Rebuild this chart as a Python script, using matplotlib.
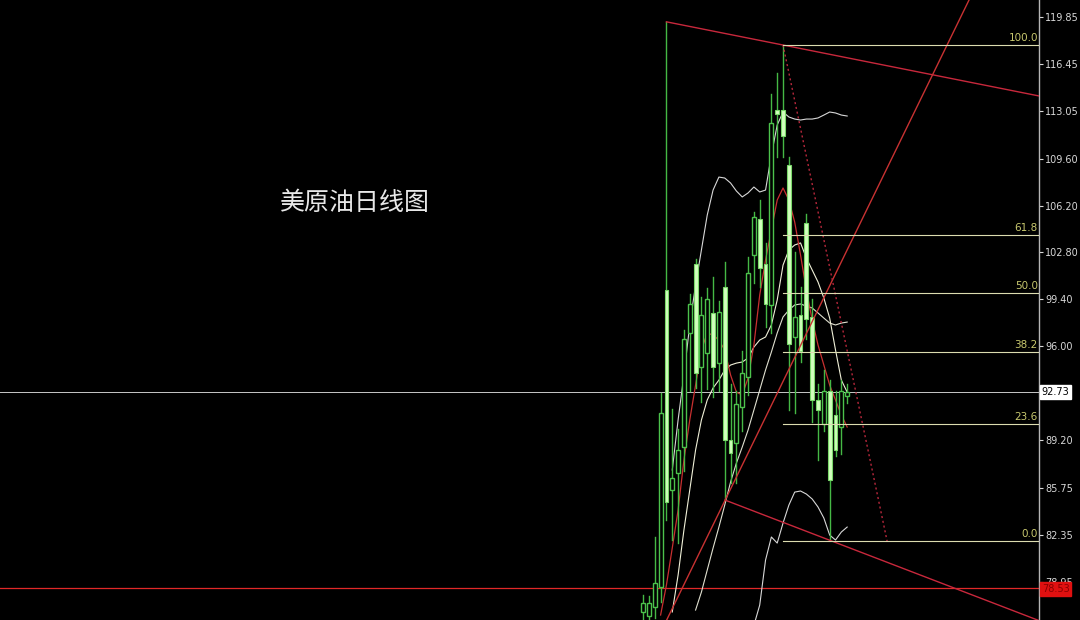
import matplotlib
matplotlib.use("Agg")
import matplotlib.pyplot as plt
import numpy as np
from matplotlib.patches import Rectangle

# daily candles (index 0 = first visible bar)
opens = [76.8, 76.5, 77.1, 78.6, 100.1, 85.6, 86.8, 88.7, 97.0, 102.0, 94.5, 95.5,
         98.4, 94.8, 100.3, 89.2, 89.0, 91.6, 93.8, 102.6, 105.2, 102.0, 99.0, 113.1,
         113.1, 109.1, 96.7, 98.3, 104.9, 98.1, 92.1, 90.4, 92.8, 91.0, 90.2, 92.4]
highs = [78.0, 77.9, 82.2, 92.6, 119.5, 91.5, 90.0, 97.2, 99.8, 102.3, 99.6, 100.2,
         101.0, 99.3, 102.1, 93.3, 92.8, 95.7, 102.5, 105.7, 106.6, 103.5, 114.3, 115.8,
         117.82, 109.7, 102.8, 100.3, 105.6, 99.4, 93.3, 94.3, 93.6, 92.8, 93.6, 93.3]
lows = [76.2, 76.2, 76.3, 77.5, 83.4, 82.0, 81.8, 87.0, 92.8, 93.0, 92.0, 92.9,
        92.3, 92.8, 84.9, 86.1, 86.1, 89.9, 92.5, 100.6, 100.3, 97.4, 97.0, 109.7,
        109.7, 91.4, 91.2, 94.9, 96.5, 90.5, 87.8, 89.9, 82.0, 88.1, 88.2, 91.9]
closes = [77.4, 77.4, 78.9, 91.2, 84.7, 86.5, 88.5, 96.5, 99.1, 94.1, 98.3, 99.4,
          94.5, 98.5, 89.2, 88.3, 91.8, 94.1, 101.3, 105.4, 101.7, 99.1, 112.2, 112.8,
          111.2, 96.2, 98.1, 95.7, 98.0, 92.1, 91.4, 92.8, 86.3, 88.5, 92.8, 92.73]

nan = np.nan
# moving averages / bands, one value per bar
ma5 = [nan, nan, nan, 76.55, 78.72, 81.40, 84.15, 87.77, 90.67, 93.20, 95.74, 96.97,
       96.82, 96.46, 95.74, 93.93, 92.69, 92.48, 93.71, 96.10, 99.72, 102.25, 104.43, 106.60,
       107.47, 106.60, 105.00, 102.62, 100.08, 97.91, 96.10, 94.65, 93.20, 92.12, 91.03, 90.16]
ma10 = [nan, nan, nan, nan, nan, 76.77, 79.44, 82.70, 85.60, 88.50, 90.67, 92.12,
        92.99, 93.56, 94.29, 94.65, 94.79, 94.87, 95.16, 95.95, 96.46, 96.68, 97.55, 99.36,
        101.89, 102.98, 103.34, 103.49, 102.40, 101.53, 100.66, 99.50, 98.05, 95.74, 93.56, 92.69]
boll_mid = [nan, nan, nan, nan, nan, nan, nan, nan, nan, 76.91, 78.21, 79.81,
            81.40, 82.92, 84.51, 86.18, 87.55, 88.71, 89.94, 91.39, 92.84, 94.29, 95.59, 96.97,
            98.13, 98.63, 99.00, 99.07, 98.92, 98.78, 98.42, 98.05, 97.69, 97.55, 97.69, 97.76]
boll_up = [nan, nan, nan, nan, nan, 87.05, 90.67, 93.93, 97.55, 100.44, 102.98, 105.51,
           107.32, 108.26, 108.19, 107.83, 107.25, 106.82, 107.11, 107.54, 107.18, 107.32, 109.86, 112.03,
           112.97, 112.61, 112.46, 112.39, 112.46, 112.46, 112.54, 112.75, 112.97, 112.90, 112.75, 112.68]
boll_low = [nan, nan, nan, nan, nan, nan, nan, nan, nan, nan, nan, nan,
            nan, nan, nan, nan, nan, nan, nan, 75.80, 77.27, 80.53, 82.20, 81.76,
            83.21, 84.51, 85.45, 85.53, 85.31, 84.95, 84.37, 83.57, 82.34, 81.98, 82.56, 82.92]

# drawn objects: trend lines as (bar, price) anchors
resist_line = [(4, 119.5), (24, 117.82)]
support_line = [(14.07, 84.87), (32.4, 81.9)]
rising_line = [(14.07, 84.87), (55.9, 121.08)]
dotted_line = [(24, 117.82), (41.85, 81.9)]

# fibonacci retracement
fib_start = 24
fib_high = 117.82
fib_low = 81.9
fib_levels = [100.0, 61.8, 50.0, 38.2, 23.6, 0.0]

y_ticks = [119.85, 116.45, 113.05, 109.60, 106.20, 102.80, 99.40, 96.00, 89.20, 85.75, 82.35, 78.95]
last_price = 92.73
red_level = 78.53
title = "美原油日线图"

X_LEFT, X_RIGHT = -110.3, 67.9
Y_LOW, Y_HIGH = 76.19, 121.08


def extend(anchors, x0, x1):
    (xa, ya), (xb, yb) = anchors
    k = (yb - ya) / (xb - xa)
    return [x0, x1], [ya + k * (x0 - xa), ya + k * (x1 - xa)]


def draw_candles(ax):
    width = 0.66
    for i in range(len(opens)):
        o, h, l, c = opens[i], highs[i], lows[i], closes[i]
        ax.plot([i, i], [l, h], color="#45b845", lw=1.0, zorder=3)
        bottom = min(o, c)
        height = max(abs(c - o), 0.08)
        if c >= o:
            rect = Rectangle((i - width / 2, bottom), width, height,
                             facecolor="black", edgecolor="#4cc24c", lw=1.0, zorder=4)
        else:
            rect = Rectangle((i - width / 2, bottom), width, height,
                             facecolor="#d2ffbe", edgecolor="#7ad86a", lw=0.8, zorder=4)
        ax.add_patch(rect)


fig = plt.figure(figsize=(10.8, 6.2), dpi=100, facecolor="black")
ax = fig.add_axes([0, 0, 1039 / 1080, 1])
ax.set_facecolor("black")
ax.set_xlim(X_LEFT, X_RIGHT)
ax.set_ylim(Y_LOW, Y_HIGH)

# bands and averages
bars = np.arange(len(opens))
ax.plot(bars, boll_up, color="#d8d8d8", lw=0.8, zorder=2)
ax.plot(bars, boll_low, color="#d8d8d8", lw=0.8, zorder=2)
ax.plot(bars, boll_mid, color="#e0e0d0", lw=0.8, zorder=2)
ax.plot(bars, ma10, color="#f0f0d8", lw=0.8, zorder=2)
ax.plot(bars, ma5, color="#c83030", lw=0.9, zorder=2)

draw_candles(ax)

# horizontal price lines
ax.axhline(last_price, color="#c8c8c8", lw=0.7, zorder=1)
ax.axhline(red_level, color="#e02828", lw=0.9, zorder=1)

# trend lines
xs, ys = extend(resist_line, resist_line[0][0], X_RIGHT)
ax.plot(xs, ys, color="#c8283c", lw=1.0, zorder=5)
xs, ys = extend(support_line, support_line[0][0], X_RIGHT)
ax.plot(xs, ys, color="#c8283c", lw=1.0, zorder=5)
xs, ys = extend(rising_line, 3.0, rising_line[1][0])
ax.plot(xs, ys, color="#c83232", lw=1.0, zorder=5)
xs, ys = extend(dotted_line, dotted_line[0][0], dotted_line[1][0])
ax.plot(xs, ys, color="#b8283c", lw=1.0, ls=(0, (1.5, 2.0)), zorder=5)

# fibonacci lines and labels
for lvl in fib_levels:
    price = fib_low + (fib_high - fib_low) * lvl / 100.0
    ax.plot([fib_start, X_RIGHT], [price, price], color="#dcdcb0", lw=0.8, zorder=5)
    ax.text(X_RIGHT - 0.2, price + 0.12, "%.1f" % lvl, color="#c8c86e",
            fontsize=7.5, ha="right", va="bottom", zorder=6)

# right price axis
ax.yaxis.tick_right()
ax.set_yticks(y_ticks)
ax.set_yticklabels(["%.2f" % t for t in y_ticks])
ax.tick_params(axis="y", colors="#d8d8d8", labelsize=7, length=3, width=0.8, pad=1.5)
ax.set_xticks([])
for side in ["left", "top", "bottom"]:
    ax.spines[side].set_visible(False)
ax.spines["right"].set_color("#b4b4b4")
ax.spines["right"].set_linewidth(1.0)

ax.annotate("%.2f" % last_price, xy=(1.0, last_price), xycoords=("axes fraction", "data"),
            xytext=(2, 0), textcoords="offset points", fontsize=7, color="black",
            va="center", ha="left", zorder=10,
            bbox=dict(boxstyle="square,pad=0.2", facecolor="white", edgecolor="white"))
ax.annotate("%.2f" % red_level, xy=(1.0, red_level), xycoords=("axes fraction", "data"),
            xytext=(2, -1), textcoords="offset points", fontsize=7, color="#8a0000",
            va="center", ha="left", zorder=10,
            bbox=dict(boxstyle="square,pad=0.2", facecolor="#e01010", edgecolor="#e01010"))

fig.text(280 / 1080, 1 - 203 / 620, title, color="#e8e8e8", fontsize=18,
         family=["Noto Sans CJK SC", "DejaVu Sans"], ha="left", va="center")

fig.savefig("out.png", dpi=100, facecolor="black")
